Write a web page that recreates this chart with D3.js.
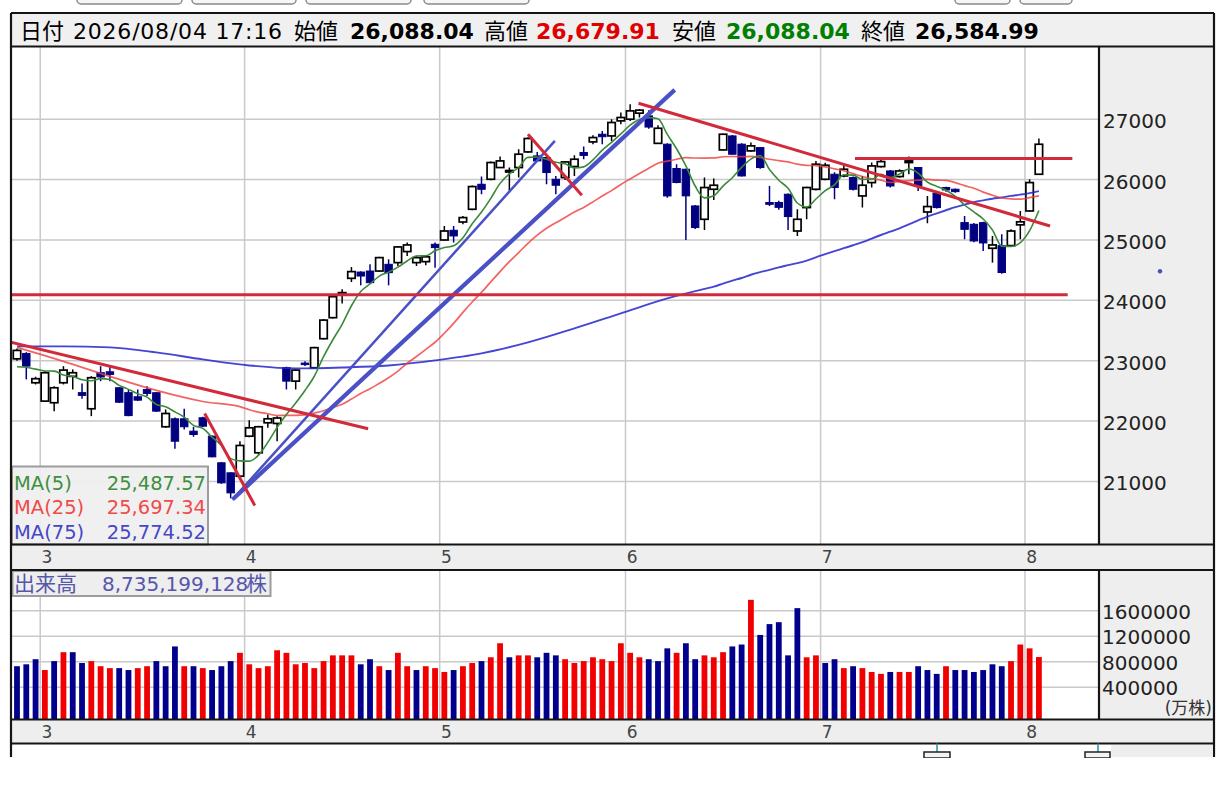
<!DOCTYPE html>
<html lang="ja">
<head>
<meta charset="utf-8">
<title>日足チャート</title>
<script src="https://cdn.jsdelivr.net/npm/d3@7"></script>
<style>
  html, body { margin: 0; background: #fff; }
  svg { display: block; }
</style>
</head>
<body>
<div id="chart"></div>
<script>
// ---- values (one entry per trading day) ----
const opens = [23030,23120,22634,22330,22303,22634,22740,22470,22203,22800,
  22816,22551,22470,22402,22523,22469,21905,22037,22037,21832,
  22054,21750,21308,21142,21086,21749,21474,21971,21960,22883,
  22661,22960,22883,23364,23712,24099,24364,24468,24485,24485,
  24596,24624,24807,24624,24640,24928,24999,25160,25297,25508,
  25922,26005,26199,26130,26199,26458,26392,26365,26005,26033,
  26216,26448,26624,26751,26723,26972,27000,27100,27055,26600,
  26586,26183,26171,25563,25342,25839,26491,26723,26586,26475,
  26530,25620,25620,25757,25148,25536,25839,26005,26088,26060,
  26033,25729,25950,26215,26143,26050,26282,26199,25463,25773,
  25868,25840,25287,25259,25287,24862,24906,24906,25250,25480,
  26088.04];
const highs = [23200,23140,22734,22827,22578,22909,22855,22623,22744,22909,
  22909,22560,22523,22523,22578,22480,22192,22060,22204,21905,
  22070,21760,21320,21150,21667,22015,21920,22109,22080,22900,
  22860,22990,23230,23690,24099,24181,24551,24480,24596,24720,
  24679,24900,24956,24740,24730,24956,25231,25231,25397,25900,
  26050,26300,26381,26199,26503,26700,26458,26380,26061,26300,
  26403,26547,26735,26806,27000,27111,27249,27170,27150,26900,
  26600,26254,26180,25580,26033,26016,26760,26740,26600,26613,
  26540,25895,25650,25770,25508,25880,26309,26280,26120,26254,
  26050,26060,26282,26337,26160,26170,26381,26210,25729,25790,
  25880,25850,25397,25280,25300,25065,25093,25176,25480,26005,
  26679.91];
const lows = [23000,22690,22606,22320,22164,22606,22523,22369,22081,22660,
  22661,22300,22080,22330,22413,22150,21890,21540,21860,21740,
  21900,21400,20960,20720,21070,21730,21440,21888,21667,22523,
  22523,22910,22870,23350,23700,23949,24302,24248,24280,24470,
  24248,24568,24734,24568,24580,24540,24990,24956,25259,25490,
  25757,25990,26190,25811,26033,26440,26300,25922,25757,25994,
  26060,26337,26586,26586,26640,26917,26972,27030,26840,26590,
  25700,25940,25000,25180,25165,25662,26480,26410,26050,26460,
  26180,25563,25500,25165,25065,25342,25820,25990,25674,26040,
  25820,25536,25868,26200,25868,26030,26088,25811,25276,25520,
  25800,25780,25010,24960,24817,24624,24440,24890,25010,25470,
  26088.04];
const closes = [23170,22910,22701,22800,22551,22844,22800,22425,22717,22730,
  22772,22312,22090,22346,22457,22164,22125,21666,21905,21777,
  21915,21407,20976,20810,21595,21888,21905,22037,22050,22661,
  22844,22940,23215,23672,24060,24127,24475,24402,24292,24707,
  24458,24884,24917,24707,24720,24873,25148,25066,25370,25884,
  25839,26282,26309,26150,26420,26680,26309,26116,25906,26292,
  26337,26400,26696,26710,26945,27028,27138,27150,26870,26850,
  25729,25951,25730,25205,25868,25906,26751,26420,26060,26558,
  26199,25590,25540,25387,25342,25868,26254,26237,25868,26171,
  25839,25906,26226,26298,25894,26143,26309,25894,25553,25536,
  25828,25800,25176,24983,24950,24917,24460,25148,25300,25950,
  26584.99];
// volume in 万株
const volumes = [730000,760000,840000,670000,810000,950000,950000,780000,810000,730000,
  700000,700000,670000,700000,730000,810000,730000,1040000,730000,730000,
  700000,670000,730000,810000,940000,760000,700000,730000,980000,940000,
  760000,780000,700000,810000,900000,900000,900000,760000,840000,730000,
  670000,940000,730000,670000,730000,700000,640000,670000,730000,780000,
  810000,870000,1090000,870000,900000,900000,870000,940000,900000,840000,
  780000,810000,870000,840000,810000,1090000,940000,870000,840000,810000,
  1010000,940000,1090000,840000,900000,870000,950000,1040000,1070000,1770000,
  1220000,1390000,1420000,900000,1640000,870000,900000,780000,840000,700000,
  730000,700000,640000,610000,640000,640000,640000,730000,670000,610000,
  730000,670000,670000,640000,670000,760000,730000,810000,1070000,1010000,
  873520];
// volume bar direction (u = red, d = navy), as drawn
const volDir = ("dddududduu" + "udduudddud" + "uddduuuuuu" + "uuuuuuuddu" +
  "duuduuuduu" + "duuduudddu" + "uuuuuuuudd" + "dudduuuddu" +
  "ddddduuddu" + "duuuduuddd" + "udddddduuuu").split("");

// month ticks: label and index of the first trading day
const monthLabels = ["3", "4", "5", "6", "7", "8"];
const monthStart = [3, 25, 46, 66, 87, 109];
const priceTicks = [21000, 22000, 23000, 24000, 25000, 26000, 27000];
const volumeTicks = [400000, 800000, 1200000, 1600000];

const ma5ReadIdx = [0, 1, 2, 3];
const ma5Read = [22900, 22890, 22860, 22830];
const ma25ReadIdx = [0, 5, 10, 15, 20];
const ma25Read = [23220, 22988, 22739, 22507, 22324];
const ma75ReadIdx = [0, 5, 10, 15, 20, 25, 30, 35, 40, 45, 50, 55, 60, 65, 70];
const ma75Read = [23236, 23236, 23220, 23137, 23021, 22921, 22872, 22888, 22921, 23004,
  23120, 23303, 23535, 23784, 24032];

// hand-drawn trend lines: [index1, price1, index2, price2]
const redLines = [[-0.75, 23308, 37.8, 21872], [20.2, 22125, 25.6, 20600],
  [55.0, 26751, 60.8, 25740], [66.9, 27265, 111.2, 25231],
  [-0.75, 24090, 113.1, 24090], [90.2, 26348, 113.6, 26348]];
const blueLines = [[23.2, 20700, 57.9, 26640], [23.2, 20700, 70.8, 27486]];
const cursorPrice = 24480;

// header and legend texts
const headerItems = [
  { text: "日付" }, { text: "2026/08/04 17:16" },
  { text: "始値" }, { text: "26,088.04", bold: true },
  { text: "高値" }, { text: "26,679.91", bold: true, color: "#e00000" },
  { text: "安値" }, { text: "26,088.04", bold: true, color: "#008000" },
  { text: "終値" }, { text: "26,584.99", bold: true }
];
const maNames = ["MA(5)", "MA(25)", "MA(75)"];
const maValues = ["25,487.57", "25,697.34", "25,774.52"];
const volumeTitle = "出来高";
const volumeTotal = "8,735,199,128";
const volumeUnit = "株";

// ---- layout ----
const width = 1228, height = 787;
const left = 11, right = 1214, axisLeft = 1099;
const headTop = 13, plotTop = 46.5, plotBottom = 544.5;
const volTop = 570, volBottom = 719.5, stripBottom = 743.5;
const font = "'DejaVu Sans', 'Noto Sans CJK JP', sans-serif";
const gridColor = "#c9c9c9", panelGrey = "#eeeeee", lineBlack = "#151515";
const upVol = "#f00000", downVol = "#00008c", navy = "#000080";

const n = closes.length;
const idx = d3.range(n);

const x = d3.scaleBand().domain(idx).range([12.35, 1043.55])
  .paddingInner(0.2).paddingOuter(0.1);
const cx = i => x(i) + x.bandwidth() / 2;
const xi = d3.scaleLinear().domain([0, n - 1]).range([cx(0), cx(n - 1)]);
const y = d3.scaleLinear().domain([21000, 27000]).range([481.4, 119.2]);
const yv = d3.scaleLinear().domain([0, 1600000]).range([712.8, 610.7]);
const gridX = i => cx(i) - x.step() / 2;

const svg = d3.select("#chart").append("svg")
  .attr("width", width).attr("height", height)
  .attr("viewBox", [0, 0, width, height])
  .style("font-family", font);

// tabs peeking in at the very top
const tabs = [[77, 182], [192, 296], [306, 411], [424, 529], [955, 1010], [1020, 1072]];
svg.append("g").selectAll("rect").data(tabs).join("rect")
  .attr("x", d => d[0]).attr("y", -10)
  .attr("width", d => d[1] - d[0]).attr("height", 14).attr("rx", 4)
  .attr("fill", "#f6f6f6").attr("stroke", "#8a8a8a").attr("stroke-width", 1.5);

// header bar
svg.append("rect")
  .attr("x", left).attr("y", headTop)
  .attr("width", right - left).attr("height", plotTop - headTop)
  .attr("fill", "#f0f0f0");
const headerX = [20, 73, 294, 350, 484, 536, 672, 726, 861, 915];
svg.append("g").selectAll("text").data(headerItems).join("text")
  .attr("x", (d, i) => headerX[i]).attr("y", 38.5)
  .attr("font-size", 22)
  .attr("font-weight", d => d.bold ? "bold" : "normal")
  .attr("fill", d => d.color || "#000")
  .attr("textLength", (d, i) => i === 1 ? 209 : null)
  .text(d => d.text);

// panel backgrounds
svg.append("rect").attr("x", axisLeft).attr("y", plotTop)
  .attr("width", right - axisLeft).attr("height", plotBottom - plotTop).attr("fill", panelGrey);
svg.append("rect").attr("x", axisLeft).attr("y", volTop)
  .attr("width", right - axisLeft).attr("height", volBottom - volTop).attr("fill", panelGrey);
svg.append("rect").attr("x", left).attr("y", plotBottom)
  .attr("width", right - left).attr("height", volTop - plotBottom).attr("fill", panelGrey);
svg.append("rect").attr("x", left).attr("y", volBottom)
  .attr("width", right - left).attr("height", stripBottom - volBottom).attr("fill", panelGrey);

// ---- price panel ----
const defs = svg.append("defs");
defs.append("clipPath").attr("id", "plot-clip").append("rect")
  .attr("x", left).attr("y", plotTop).attr("width", axisLeft - left).attr("height", plotBottom - plotTop);
defs.append("clipPath").attr("id", "vol-clip").append("rect")
  .attr("x", left).attr("y", volTop).attr("width", axisLeft - left).attr("height", volBottom - volTop);

const grid = svg.append("g").attr("stroke", gridColor).attr("stroke-width", 1.5);
grid.selectAll(".hp").data(priceTicks).join("line")
  .attr("x1", left).attr("x2", axisLeft).attr("y1", d => y(d)).attr("y2", d => y(d));
grid.selectAll(".vp").data(monthStart).join("line")
  .attr("x1", gridX).attr("x2", gridX).attr("y1", plotTop).attr("y2", plotBottom);

const plot = svg.append("g").attr("clip-path", "url(#plot-clip)");

// candles
const isUp = i => closes[i] >= opens[i];
const candles = plot.append("g");
candles.selectAll("line").data(idx).join("line")
  .attr("x1", cx).attr("x2", cx)
  .attr("y1", i => y(highs[i])).attr("y2", i => y(lows[i]))
  .attr("stroke", i => isUp(i) ? "#000" : navy).attr("stroke-width", 1.5);
candles.selectAll("rect").data(idx).join("rect")
  .attr("x", i => x(i)).attr("width", x.bandwidth())
  .attr("y", i => y(Math.max(opens[i], closes[i])))
  .attr("height", i => Math.max(1.5, Math.abs(y(opens[i]) - y(closes[i]))))
  .attr("fill", i => isUp(i) ? "#fff" : navy)
  .attr("stroke", i => isUp(i) ? "#000" : navy)
  .attr("stroke-width", i => isUp(i) ? 1.7 : 1);

// moving averages
const rolling = len => idx.filter(i => i >= len - 1)
  .map(i => [i, d3.mean(closes.slice(i - len + 1, i + 1))]);
const ma5 = ma5ReadIdx.map((i, k) => [i, ma5Read[k]]).concat(rolling(5));
const ma25 = ma25ReadIdx.map((i, k) => [i, ma25Read[k]]).concat(rolling(25));
const ma75 = ma75ReadIdx.map((i, k) => [i, ma75Read[k]]).concat(rolling(75));
const maLine = d3.line().x(d => xi(d[0])).y(d => y(d[1])).curve(d3.curveMonotoneX);
const maStyles = [
  { data: ma75, color: "#2424cc", width: 1.9, opacity: 0.85 },
  { data: ma25, color: "#f03c3c", width: 1.7, opacity: 0.8 },
  { data: ma5, color: "#3a8a3a", width: 1.6, opacity: 1 }
];
plot.append("g").selectAll("path").data(maStyles).join("path")
  .attr("d", d => maLine(d.data))
  .attr("fill", "none")
  .attr("stroke", d => d.color)
  .attr("stroke-width", d => d.width)
  .attr("stroke-opacity", d => d.opacity);

// trend lines
const blueWidths = [2.5, 4.2];
plot.append("g").selectAll("line").data(blueLines).join("line")
  .attr("x1", d => xi(d[0])).attr("y1", d => y(d[1]))
  .attr("x2", d => xi(d[2])).attr("y2", d => y(d[3]))
  .attr("stroke", "#4a50c6").attr("stroke-width", (d, i) => blueWidths[i]);
plot.append("g").selectAll("line").data(redLines).join("line")
  .attr("x1", d => xi(d[0])).attr("y1", d => y(d[1]))
  .attr("x2", d => xi(d[2])).attr("y2", d => y(d[3]))
  .attr("stroke", "#d22a3a").attr("stroke-width", 3);

// MA legend
const legend = svg.append("g");
legend.append("rect")
  .attr("x", 12).attr("y", 466.5).attr("width", 196).attr("height", plotBottom - 466.5)
  .attr("fill", "#efefef").attr("fill-opacity", 0.92)
  .attr("stroke", "#9c9c9c").attr("stroke-width", 2);
const maColors = ["#3f8f3f", "#f04a4a", "#4646c8"];
legend.selectAll(".nm").data(maNames).join("text")
  .attr("x", 14).attr("y", (d, i) => 490 + i * 24.3)
  .attr("font-size", 19.5).attr("fill", (d, i) => maColors[i]).text(d => d);
legend.selectAll(".vl").data(maValues).join("text")
  .attr("x", 206).attr("y", (d, i) => 490 + i * 24.3)
  .attr("text-anchor", "end")
  .attr("font-size", 19.5).attr("fill", (d, i) => maColors[i]).text(d => d);

// price axis labels
svg.append("g").selectAll("text").data(priceTicks).join("text")
  .attr("x", 1103).attr("y", d => y(d) + 9)
  .attr("font-size", 20).attr("fill", "#222").text(d => d);
svg.append("circle").attr("cx", 1160).attr("cy", y(cursorPrice)).attr("r", 2.2).attr("fill", "#4a50b0");

// month labels on both strips
[(plotBottom + volTop) / 2, (volBottom + stripBottom) / 2].forEach(cy => {
  svg.append("g").selectAll("text").data(monthStart).join("text")
    .attr("x", i => cx(i) + 2).attr("y", cy + 6)
    .attr("text-anchor", "middle").attr("font-size", 17).attr("fill", "#444")
    .text((d, k) => monthLabels[k]);
});

// ---- volume panel ----
const vgrid = svg.append("g").attr("stroke", gridColor).attr("stroke-width", 1.5);
vgrid.selectAll(".hv").data(volumeTicks).join("line")
  .attr("x1", left).attr("x2", axisLeft).attr("y1", d => yv(d)).attr("y2", d => yv(d));
vgrid.selectAll(".vv").data(monthStart).join("line")
  .attr("x1", gridX).attr("x2", gridX).attr("y1", volTop).attr("y2", volBottom);

svg.append("g").attr("clip-path", "url(#vol-clip)")
  .selectAll("rect").data(idx).join("rect")
  .attr("x", i => cx(i) - 2.9).attr("width", 5.8)
  .attr("y", i => yv(volumes[i])).attr("height", i => volBottom - yv(volumes[i]))
  .attr("fill", i => volDir[i] === "u" ? upVol : downVol);

const vlegend = svg.append("g").attr("fill", "#5656aa");
vlegend.append("rect").attr("x", 12.5).attr("y", 571).attr("width", 258).attr("height", 25)
  .attr("fill", "#eeeeee").attr("stroke", "#9c9c9c").attr("stroke-width", 2);
vlegend.append("text").attr("x", 14).attr("y", 591).attr("font-size", 21).text(volumeTitle);
vlegend.append("text").attr("x", 102).attr("y", 591).attr("font-size", 20).text(volumeTotal);
vlegend.append("text").attr("x", 246).attr("y", 591).attr("font-size", 21).text(volumeUnit);

svg.append("g").selectAll("text").data(volumeTicks).join("text")
  .attr("x", 1102).attr("y", d => yv(d) + 8)
  .attr("font-size", 20).attr("fill", "#222").text(d => d);
svg.append("text").attr("x", 1212).attr("y", 714).attr("text-anchor", "end")
  .attr("font-size", 17).attr("fill", "#333").text("(万株)");

// ---- frame lines ----
const frame = svg.append("g").attr("stroke", lineBlack).attr("stroke-width", 2.2);
[headTop, plotTop, plotBottom, volTop, volBottom, stripBottom].forEach(v => {
  frame.append("line").attr("x1", left).attr("x2", right).attr("y1", v).attr("y2", v);
});
frame.append("line").attr("x1", left).attr("x2", left).attr("y1", headTop).attr("y2", 757);
frame.append("line").attr("x1", right).attr("x2", right).attr("y1", headTop).attr("y2", 757);
frame.append("line").attr("x1", axisLeft).attr("x2", axisLeft).attr("y1", plotTop).attr("y2", plotBottom);
frame.append("line").attr("x1", axisLeft).attr("x2", axisLeft).attr("y1", volTop).attr("y2", volBottom);

// pieces of the next panel below the volume strip
svg.append("rect").attr("x", 1111).attr("y", 745).attr("width", right - 1112).attr("height", 12).attr("fill", panelGrey);
[[924, 950, 937], [1085, 1110, 1098]].forEach(([a, b, s]) => {
  svg.append("line").attr("x1", s).attr("x2", s).attr("y1", stripBottom).attr("y2", 752)
    .attr("stroke", "#2a90a8").attr("stroke-width", 1.5);
  svg.append("rect").attr("x", a).attr("y", 752).attr("width", b - a).attr("height", 6)
    .attr("fill", "#f4f4f4").attr("stroke", "#222").attr("stroke-width", 1.5);
});
svg.append("rect").attr("x", 0).attr("y", 758).attr("width", width).attr("height", height - 758).attr("fill", "#fff");
</script>
</body>
</html>
